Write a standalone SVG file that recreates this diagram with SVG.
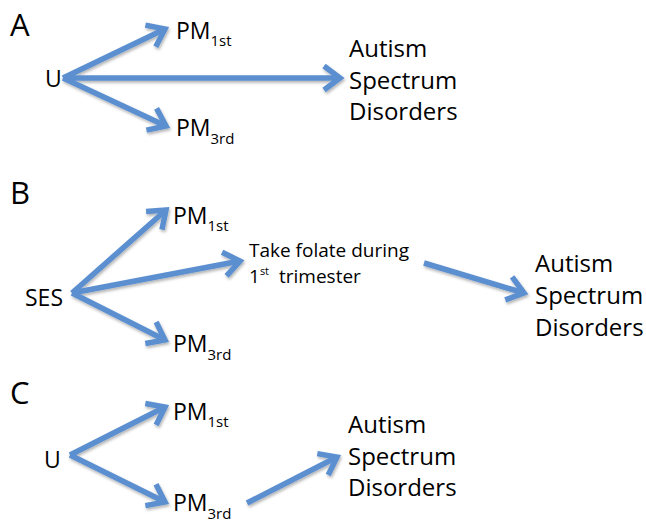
<svg xmlns="http://www.w3.org/2000/svg" width="646" height="522" viewBox="0 0 646 522">
<style>
text{font-family:"Open Sans","Noto Sans","Liberation Sans",sans-serif;fill:#000}
.lab{font-size:31px}
.n{font-size:23px}
.asd{font-size:24px}
.sub{font-size:15px}
.fol{font-size:19px}
.conn path{fill:none;stroke:#5b8fd0;stroke-width:5.5;marker-end:url(#ah)}
</style>
<defs>
<filter id="sh" x="-20%" y="-20%" width="140%" height="140%">
<feDropShadow dx="1" dy="2" stdDeviation="1.5" flood-color="#000" flood-opacity="0.3"/>
</filter>
<marker id="ah" markerUnits="userSpaceOnUse" markerWidth="40" markerHeight="40" viewBox="-20 -20 40 40" refX="0" refY="0" orient="auto" overflow="visible">
<path d="M-16,-12 L0,0 L-16,12" fill="none" stroke="#5b8fd0" stroke-width="5.5" stroke-linejoin="miter"/>
</marker>
</defs>
<rect width="646" height="522" fill="#fff"/>

<!-- Panel labels -->
<text class="lab" x="10" y="36">A</text>
<text class="lab" x="10" y="204">B</text>
<text class="lab" x="10" y="404">C</text>

<!-- Panel A -->
<g id="a-u"><text class="n" x="45" y="87">U</text></g>
<g id="a-pm1"><text class="n" x="176" y="39">PM<tspan class="sub" dy="7">1st</tspan></text></g>
<g id="a-pm3"><text class="n" x="176" y="136">PM<tspan class="sub" dy="8">3rd</tspan></text></g>
<g id="a-asd"><text class="asd"><tspan x="349" y="57">Autism</tspan><tspan x="349" y="88.5">Spectrum</tspan><tspan x="349" y="120">Disorders</tspan></text></g>

<!-- Panel B -->
<g id="b-ses"><text class="n" x="25" y="306">SES</text></g>
<g id="b-pm1"><text class="n" x="173" y="224">PM<tspan class="sub" dy="7">1st</tspan></text></g>
<g id="b-pm3"><text class="n" x="173" y="352">PM<tspan class="sub" dy="8">3rd</tspan></text></g>
<g id="b-folate"><text class="fol" x="249" y="257">Take folate during</text><text class="fol" x="249" y="283">1<tspan font-size="11" dy="-8">st</tspan><tspan x="279" dy="8">trimester</tspan></text></g>
<g id="b-asd"><text class="asd"><tspan x="535" y="272">Autism</tspan><tspan x="535" y="304">Spectrum</tspan><tspan x="535" y="336">Disorders</tspan></text></g>

<!-- Panel C -->
<g id="c-u"><text class="n" x="44" y="468">U</text></g>
<g id="c-pm1"><text class="n" x="173" y="420">PM<tspan class="sub" dy="7">1st</tspan></text></g>
<g id="c-pm3"><text class="n" x="173" y="511">PM<tspan class="sub" dy="8">3rd</tspan></text></g>
<g id="c-asd"><text class="asd"><tspan x="348" y="433">Autism</tspan><tspan x="348" y="464.5">Spectrum</tspan><tspan x="348" y="496">Disorders</tspan></text></g>

<g id="connectors" class="conn" filter="url(#sh)">
<path d="M63,78 L165,29"/>
<path d="M63,78 L340,78"/>
<path d="M63,78 L166,126"/>
<path d="M72,293 L166,210"/>
<path d="M72,293 L240,261"/>
<path d="M72,293 L165,340"/>
<path d="M424,263 L524,293"/>
<path d="M70,455 L165,407"/>
<path d="M70,455 L165,502"/>
<path d="M247,503 L337,457"/>
</g>
</svg>
